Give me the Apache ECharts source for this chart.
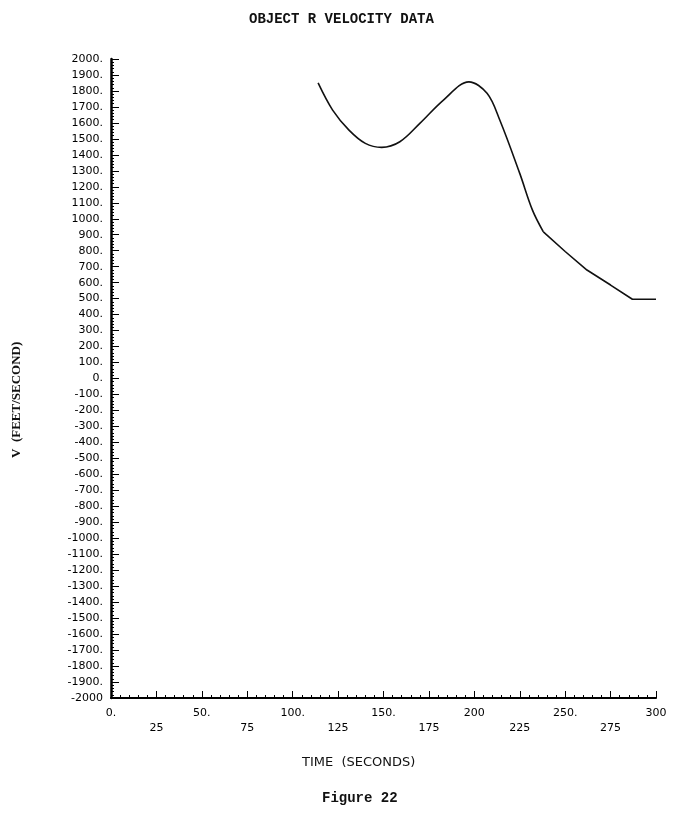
<!DOCTYPE html>
<html>
<head>
<meta charset="utf-8">
<script src="https://cdn.jsdelivr.net/npm/echarts@6/dist/echarts.min.js"></script>
<style>html,body{margin:0;padding:0;background:#fff}#c{width:676px;height:814px}</style>
</head>
<body>
<div id="c"></div>
<script>
var titleText = 'OBJECT R VELOCITY DATA';
var xName = 'TIME  (SECONDS)';
var yName = 'V  (FEET/SECOND)';
var figureText = 'Figure 22';
// curved part of the trace
var curveTimes = [114, 122, 131, 140, 149, 159, 170, 183, 197, 207, 214, 225, 232, 238];
var curveVelocity = [1850, 1680, 1555, 1472, 1447, 1482, 1597, 1743, 1857, 1785, 1618, 1284, 1054, 918];
// nearly straight tail of the trace
var tailTimes = [238, 250, 262, 275, 287, 300];
var tailVelocity = [918, 795, 679, 585, 496, 496];

var chart = echarts.init(document.getElementById('c'), null, {renderer: 'canvas'});
var labelFont = {fontFamily: 'DejaVu Sans', fontSize: 11, color: '#000'};
chart.setOption({
  animation: false,
  backgroundColor: '#fff',
  graphic: [
    {type: 'text', left: 343 - 94, top: 12, style: {text: titleText, font: 'bold 14px "Liberation Mono"', fill: '#111'}},
    {type: 'text', left: 322, top: 791, style: {text: figureText, font: 'bold 14px "Liberation Mono"', fill: '#111'}},
    {type: 'text', left: 302, top: 756, style: {text: xName, font: '13px "DejaVu Sans"', fill: '#111'}},
    {type: 'text', x: 10, y: 458, rotation: Math.PI / 2, style: {text: yName, font: 'bold 13px "Liberation Serif"', fill: '#111', textAlign: 'left', textVerticalAlign: 'top'}}
  ],
  grid: {left: 111, right: 20, top: 59, bottom: 116},
  xAxis: {
    type: 'value', min: 0, max: 300, interval: 25,
    axisLine: {onZero: false, lineStyle: {color: '#000', width: 2}},
    axisTick: {inside: true, length: 7, lineStyle: {color: '#000', width: 1}},
    minorTick: {show: true, splitNumber: 5, length: 3, lineStyle: {color: '#000', width: 1}},
    splitLine: {show: false},
    axisLabel: Object.assign({
      margin: 8, lineHeight: 15,
      formatter: function (v) { return (v % 50 === 0) ? (v === 200 || v === 300 ? String(v) : v + '.') : '\n' + v; }
    }, labelFont)
  },
  yAxis: {
    type: 'value', min: -2000, max: 2000, interval: 100,
    axisLine: {onZero: false, lineStyle: {color: '#000', width: 2.5}},
    axisTick: {inside: true, length: 8, lineStyle: {color: '#000', width: 1}},
    minorTick: {show: true, splitNumber: 5, length: 3, lineStyle: {color: '#000', width: 1}},
    splitLine: {show: false},
    axisLabel: Object.assign({
      margin: 8,
      formatter: function (v) { return v === -2000 ? '-2000' : v + '.'; }
    }, labelFont)
  },
  series: [{
    type: 'line',
    data: curveTimes.map(function (t, i) { return [t, curveVelocity[i]]; }),
    smooth: 0.35,
    showSymbol: false,
    lineStyle: {color: '#111', width: 1.6}
  }, {
    type: 'line',
    data: tailTimes.map(function (t, i) { return [t, tailVelocity[i]]; }),
    smooth: false,
    showSymbol: false,
    lineStyle: {color: '#111', width: 1.6}
  }]
});
</script>
</body>
</html>
